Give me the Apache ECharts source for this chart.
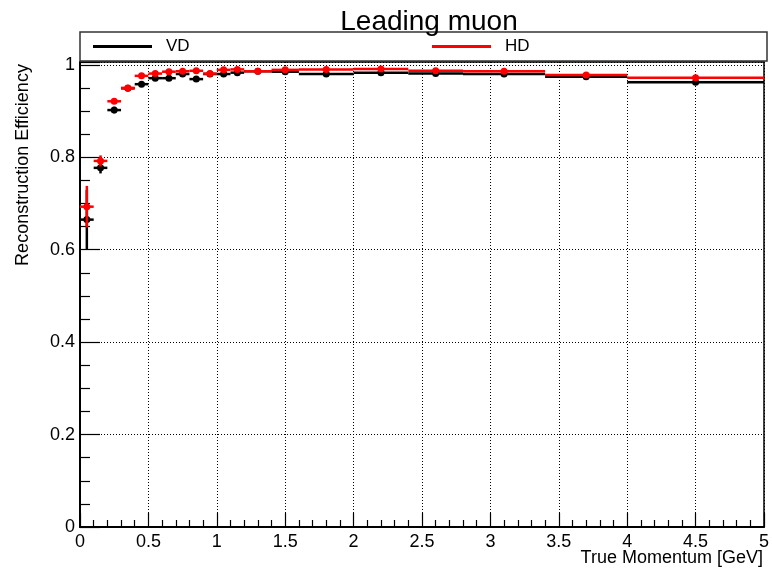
<!DOCTYPE html>
<html>
<head>
<meta charset="utf-8">
<script src="https://cdn.jsdelivr.net/npm/echarts@6/dist/echarts.min.js"></script>
<style>
    html, body { margin: 0; padding: 0; background: #fff; }
    #chart { width: 772px; height: 571px; }
</style>
</head>
<body>
<div id="chart"></div>
<script>
// bin edges in true momentum [GeV]
const binLow  = [0, 0.1, 0.2, 0.3, 0.4, 0.5, 0.6, 0.7, 0.8, 0.9, 1.0, 1.1, 1.2, 1.4, 1.6, 2.0, 2.4, 2.8, 3.4, 4.0]
const binHigh = [0.1, 0.2, 0.3, 0.4, 0.5, 0.6, 0.7, 0.8, 0.9, 1.0, 1.1, 1.2, 1.4, 1.6, 2.0, 2.4, 2.8, 3.4, 4.0, 5.0]

// efficiency per bin and its error
const vdEff = [0.665, 0.777, 0.902, 0.949, 0.958, 0.971, 0.971, 0.980, 0.969, 0.980, 0.980, 0.983, 0.986, 0.985, 0.980, 0.983, 0.981, 0.980, 0.974, 0.962]
const vdErr = [0.064, 0.012, 0.007, 0.005, 0.004, 0.003, 0.003, 0.003, 0.003, 0.003, 0.003, 0.003, 0.002, 0.002, 0.002, 0.002, 0.002, 0.002, 0.003, 0.004]
const hdEff = [0.693, 0.792, 0.921, 0.950, 0.976, 0.981, 0.985, 0.986, 0.987, 0.981, 0.989, 0.990, 0.986, 0.989, 0.990, 0.991, 0.987, 0.986, 0.978, 0.972]
const hdErr = [0.045, 0.012, 0.006, 0.004, 0.003, 0.003, 0.003, 0.002, 0.002, 0.002, 0.002, 0.002, 0.002, 0.002, 0.002, 0.002, 0.002, 0.002, 0.003, 0.003]

const yTicks = [0, 0.2, 0.4, 0.6, 0.8, 1]

const font = 'Liberation Sans, Arial, Helvetica, sans-serif'

function toData(eff, err) {
    return binLow.map((lo, i) => [lo, binHigh[i], eff[i], err[i]])
}

// histogram style point: horizontal bar over the bin, vertical error bar, dot
function makeRender(color) {
    return function (params, api) {
        const x0 = api.value(0)
        const x1 = api.value(1)
        const y = api.value(2)
        const e = api.value(3)
        const xc = (x0 + x1) / 2
        const pL = api.coord([x0, y])
        const pR = api.coord([x1, y])
        const pT = api.coord([xc, y + e])
        const pB = api.coord([xc, y - e])
        const pC = api.coord([xc, y])
        const style = { stroke: color, lineWidth: 2.5 }
        return {
            type: 'group',
            children: [
                { type: 'line', shape: { x1: pL[0], y1: pL[1], x2: pR[0], y2: pR[1] }, style: style },
                { type: 'line', shape: { x1: pT[0], y1: pT[1], x2: pB[0], y2: pB[1] }, style: style },
                { type: 'circle', shape: { cx: pC[0], cy: pC[1], r: 3.5 }, style: { fill: color } }
            ]
        }
    }
}

const myChart = echarts.init(document.getElementById('chart'))

const option = {
    animation: false,
    backgroundColor: '#fff',
    textStyle: { fontFamily: font },
    title: {
        text: 'Leading muon',
        left: 424,
        textAlign: 'center',
        top: 3,
        textStyle: { fontFamily: font, fontSize: 28, fontWeight: 'normal', color: '#000' }
    },
    legend: [
        {
            data: [{ name: 'VD', icon: 'rect' }],
            left: 93,
            top: 38,
            padding: 0,
            itemWidth: 59,
            itemHeight: 3,
            itemGap: 0,
            textStyle: { fontFamily: font, fontSize: 17, color: '#000', padding: [0, 0, 0, 9] }
        },
        {
            data: [{ name: 'HD', icon: 'rect' }],
            left: 432,
            top: 38,
            padding: 0,
            itemWidth: 59,
            itemHeight: 3,
            itemGap: 0,
            textStyle: { fontFamily: font, fontSize: 17, color: '#000', padding: [0, 0, 0, 9] }
        }
    ],
    graphic: [
        {
            type: 'rect',
            shape: { x: 80, y: 32, width: 687, height: 29 },
            style: { fill: 'none', stroke: '#333', lineWidth: 1.5 },
            z: 1
        },
        {
            type: 'text',
            x: 23,
            y: 165,
            rotation: Math.PI / 2,
            style: {
                text: 'Reconstruction Efficiency',
                fontFamily: font,
                fontSize: 18,
                fill: '#000',
                align: 'center',
                verticalAlign: 'middle'
            }
        },
        {
            type: 'text',
            x: 763,
            y: 558,
            style: {
                text: 'True Momentum [GeV]',
                fontFamily: font,
                fontSize: 18,
                fill: '#000',
                align: 'right',
                verticalAlign: 'middle'
            }
        }
    ],
    grid: {
        left: 80,
        right: 5,
        top: 62,
        bottom: 44,
        show: true,
        borderColor: '#000',
        borderWidth: 1.5,
        containLabel: false
    },
    xAxis: {
        type: 'value',
        min: 0,
        max: 5,
        interval: 0.5,
        axisLine: { lineStyle: { color: '#000', width: 2 } },
        axisTick: { inside: true, length: 14, lineStyle: { color: '#000', width: 1.2 } },
        minorTick: { show: true, splitNumber: 5, length: 7, lineStyle: { color: '#000', width: 1.2 } },
        axisLabel: { fontFamily: font, fontSize: 18, color: '#000', margin: 6, showMaxLabel: true, showMinLabel: true },
        splitLine: { show: true, lineStyle: { color: '#000', width: 1, type: [1, 2] } }
    },
    yAxis: {
        type: 'value',
        min: 0,
        max: 1.006,
        interval: 0.2,
        axisLine: { lineStyle: { color: '#000', width: 2 } },
        axisTick: { inside: true, length: 20, lineStyle: { color: '#000', width: 1.2 } },
        minorTick: { show: true, splitNumber: 4, length: 10, lineStyle: { color: '#000', width: 1.2 } },
        axisLabel: {
            fontFamily: font,
            fontSize: 18,
            color: '#000',
            margin: 5,
            formatter: function (v) {
                const hit = yTicks.find(t => Math.abs(t - v) < 1e-6)
                return hit === undefined ? '' : String(hit)
            }
        },
        splitLine: { show: true, lineStyle: { color: '#000', width: 1, type: [1, 2] } }
    },
    series: [
        {
            name: 'VD',
            type: 'custom',
            itemStyle: { color: '#000' },
            renderItem: makeRender('#000'),
            encode: { x: [0, 1], y: 2 },
            data: toData(vdEff, vdErr),
            z: 3
        },
        {
            name: 'HD',
            type: 'custom',
            itemStyle: { color: '#ff0000' },
            renderItem: makeRender('#ff0000'),
            encode: { x: [0, 1], y: 2 },
            data: toData(hdEff, hdErr),
            z: 4
        }
    ]
}

myChart.setOption(option)
</script>
</body>
</html>
